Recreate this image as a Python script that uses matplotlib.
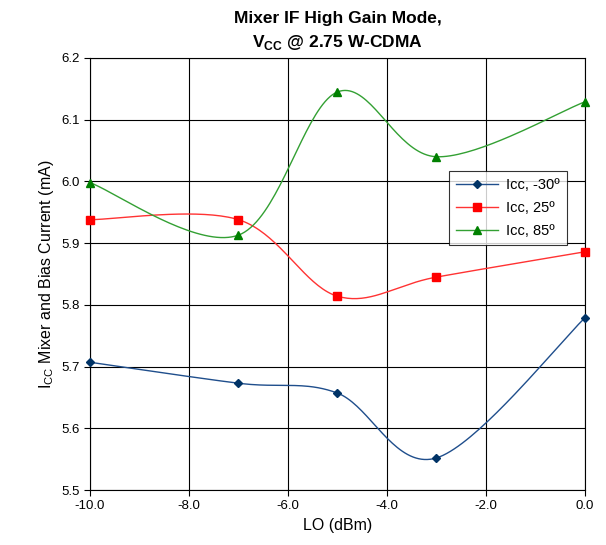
import matplotlib
matplotlib.use("Agg")
import matplotlib.pyplot as plt
import numpy as np

plt.rcParams['font.family'] = ['Liberation Sans', 'DejaVu Sans']
plt.rcParams['mathtext.fontset'] = 'custom'
plt.rcParams['mathtext.rm'] = 'Liberation Sans'
plt.rcParams['mathtext.bf'] = 'Liberation Sans:bold'

# LO power (dBm)
lo = [-10.0, -7.0, -5.0, -3.0, 0.0]
# Icc mixer and bias current (mA)
icc_m30 = [5.707, 5.673, 5.657, 5.552, 5.779]
icc_25 = [5.938, 5.938, 5.814, 5.845, 5.886]
icc_85 = [5.998, 5.913, 6.145, 6.040, 6.129]

labels = ['Icc, -30º', 'Icc, 25º', 'Icc, 85º']
colors = ['#003366', '#FF0000', '#008000']
line_colors = ['#1F4E8C', '#FF3333', '#33A033']
markers = ['D', 's', '^']
msizes = [4.5, 6, 6]

xlim = (-10, 0)
ylim = (5.5, 6.2)


def smooth(xs, ys, n=40):
    # Excel-style smoothed line: Catmull-Rom bezier in normalised coords
    px = (np.array(xs) - xlim[0]) / (xlim[1] - xlim[0]) * 495
    py = (np.array(ys) - ylim[0]) / (ylim[1] - ylim[0]) * 432
    pts = np.column_stack([px, py])
    out = []
    for i in range(len(pts) - 1):
        p0 = pts[i - 1] if i > 0 else pts[i]
        p1 = pts[i]
        p2 = pts[i + 1]
        p3 = pts[i + 2] if i + 2 < len(pts) else pts[i + 1]
        c1 = p1 + (p2 - p0) / 6.0
        c2 = p2 - (p3 - p1) / 6.0
        t = np.linspace(0, 1, n)[:, None]
        seg = ((1 - t) ** 3) * p1 + 3 * ((1 - t) ** 2) * t * c1 + 3 * (1 - t) * t ** 2 * c2 + t ** 3 * p2
        out.append(seg if i == 0 else seg[1:])
    out = np.vstack(out)
    sx = out[:, 0] / 495 * (xlim[1] - xlim[0]) + xlim[0]
    sy = out[:, 1] / 432 * (ylim[1] - ylim[0]) + ylim[0]
    return sx, sy


fig = plt.figure(figsize=(6.06, 5.45), dpi=100)
ax = fig.add_axes([0.1485, 0.1009, 0.8168, 0.7927])

for ys, lab, c, lc, m, ms in zip([icc_m30, icc_25, icc_85], labels, colors, line_colors, markers, msizes):
    sx, sy = smooth(lo, ys)
    ax.plot(sx, sy, color=lc, linewidth=1.0, zorder=2)
    ax.plot(lo, ys, linestyle='none', marker=m, markersize=ms, color=c, zorder=3, clip_on=False)
    ax.plot([], [], color=lc, linewidth=1.0, marker=m, markersize=ms,
            markerfacecolor=c, markeredgecolor=c, label=lab)

ax.set_xlim(*xlim)
ax.set_ylim(*ylim)
ax.set_xticks(np.arange(-10, 0.1, 2))
ax.set_xticklabels(['%.1f' % v for v in np.arange(-10, 0.1, 2)])
ax.set_yticks(np.arange(5.5, 6.21, 0.1))
ax.set_yticklabels(['%.1f' % v for v in np.arange(5.5, 6.21, 0.1)])
ax.grid(True, color='black', linewidth=0.8)
ax.tick_params(direction='out', length=4, labelsize=9.5, width=0.8)
for s in ax.spines.values():
    s.set_linewidth(0.8)

ax.set_xlabel('LO (dBm)', fontsize=11.5)
ax.set_ylabel(r'I$_{\mathrm{CC}}$ Mixer and Bias Current (mA)', fontsize=11.5)
ax.set_title('Mixer IF High Gain Mode,\n' + r'V$_{\mathbf{CC}}$ @ 2.75 W-CDMA',
             fontsize=12.5, fontweight='bold', linespacing=1.5, pad=8)

leg = ax.legend(loc='upper left', bbox_to_anchor=(0.71, 0.755), fontsize=10.5,
                frameon=True, fancybox=False, edgecolor='black',
                borderpad=0.5, labelspacing=0.6, handlelength=2.9, handletextpad=0.5)
leg.get_frame().set_linewidth(0.8)

fig.savefig('out.png', dpi=100)
